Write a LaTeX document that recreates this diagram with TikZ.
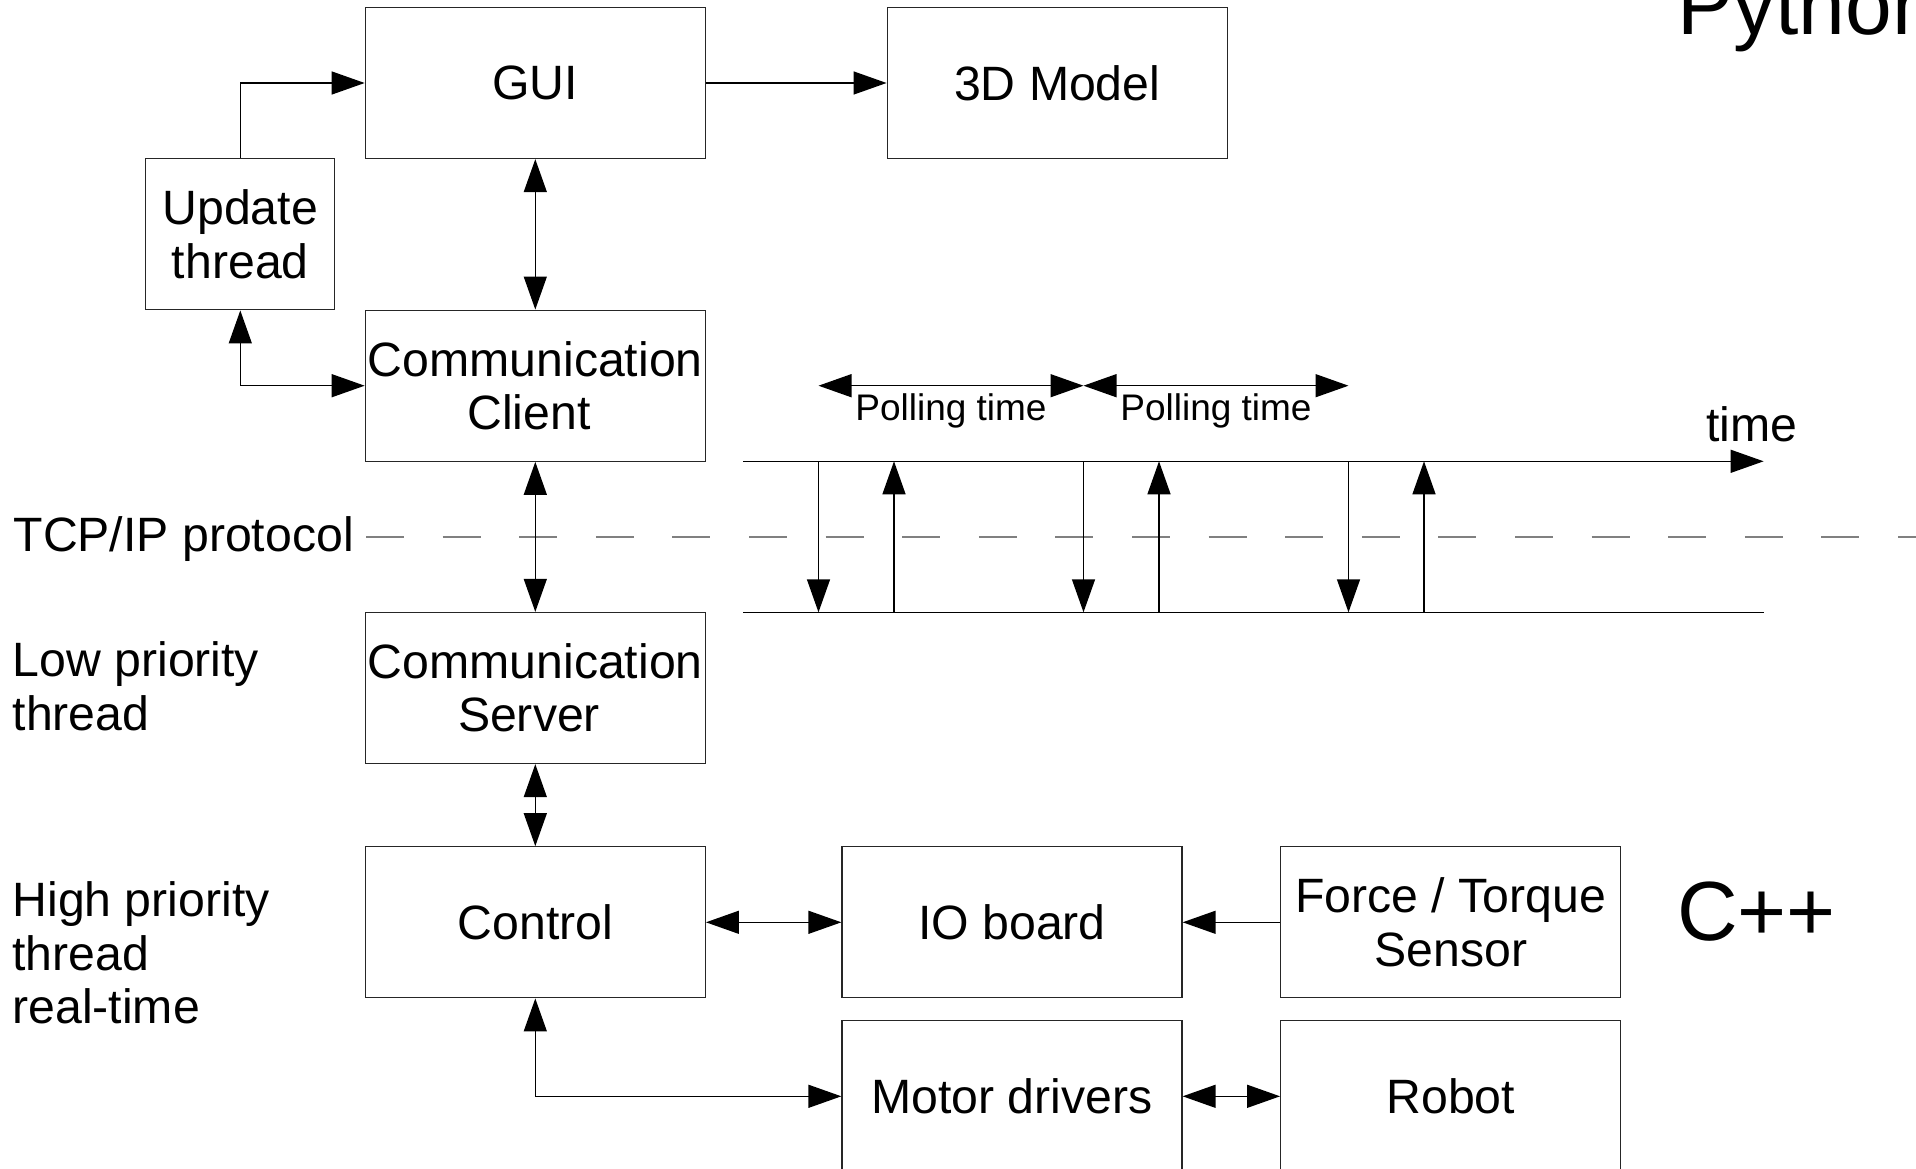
\documentclass[tikz,border=0pt]{standalone}
\usepackage{fontspec}
\setmainfont{Liberation Sans}
\usetikzlibrary{arrows.meta}
\begin{document}
\begin{tikzpicture}[x=1pt,y=-1pt,
  >={Triangle[length=33pt,width=23pt]},
  box/.style={draw=black!85, line width=1.3pt, minimum width=340pt, minimum height=151pt,
    inner sep=1pt, align=center, font=\fontsize{48.2}{53.3}\selectfont},
  lbl/.style={inner sep=0pt, align=left, font=\fontsize{48.2}{53.3}\selectfont},
  big/.style={inner sep=0pt, font=\fontsize{84}{96}\selectfont},
  small/.style={inner sep=0pt, font=\fontsize{37}{42}\selectfont},
  conn/.style={line width=1.4pt, black},
  tcpline/.style={line width=2pt, color=black!50, dash pattern=on 38pt off 38.6pt}
]
\useasboundingbox (0,0) rectangle (1916,1169);
\clip (0,0) rectangle (1916,1169);

% dashed protocol line
\coordinate (d0) at (366,536.7);
\coordinate (d1) at (1940,536.7);
\draw[tcpline] (d0) -- (d1);

% boxes
\node[box] (gui) at (535.3,83) {GUI};
\node[box] (m3d) at (1057.2,83) {3D Model};
\node[box, minimum width=189pt] (upd) at (240.3,234.3) {Update\\thread};
\node[box] (cli) at (535.3,385.7) {Communication\\Client\rule{12.6pt}{0pt}};
\node[box] (srv) at (535.3,688) {Communication\\Server\rule{12.6pt}{0pt}};
\node[box] (ctl) at (535.3,922.3) {Control};
\node[box] (io) at (1012,922.3) {IO board};
\node[box] (ft) at (1450.7,922.3) {Force / Torque\\Sensor};
\node[box] (mot) at (1012,1096.3) {Motor drivers};
\node[box] (rob) at (1450.7,1096.3) {Robot};

% side labels (base anchor = baseline of last line)
\node[lbl, anchor=base west] (tcp) at (13.4,551.7) {TCP/IP protocol};
\node[lbl, anchor=base west] (low) at (12.5,730) {Low priority\\thread};
\node[lbl, anchor=base west] (high) at (12.3,1023.3) {High priority\\thread\\real-time};
\node[big, anchor=base west] (py) at (1677,34.3) {Python};
\node[big, anchor=base west] (cpp) at (1677,940.5) {C++};

% connectors
\draw[conn,->] (upd.north) |- (gui.west);
\draw[conn,->] (gui.east) -- (m3d.west);
\draw[conn,<->] (gui.south) -- (cli.north);
\draw[conn,<->] (upd.south) |- (cli.west);
\draw[conn,<->] (cli.south) -- (srv.north);
\draw[conn,<->] (srv.south) -- (ctl.north);
\draw[conn,<->] (ctl.east) -- (io.west);
\draw[conn,->] (ft.west) -- (io.east);
\draw[conn,<->] (ctl.south) |- (mot.west);
\draw[conn,<->] (mot.east) -- (rob.west);

% timeline
\coordinate (t0) at (743,461.3);
\coordinate (t1) at (1763.6,461.3);
\coordinate (b0) at (743,612.3);
\coordinate (b1) at (1763.6,612.3);
\draw[conn,->] (t0) -- (t1);
\draw[conn] (b0) -- (b1);
\node[lbl, anchor=base] (time) at (1752,441) {time};

\foreach \i/\xd/\xu in {1/818.5/894, 2/1083.5/1159, 3/1348.5/1424}{
  \coordinate (dt\i) at (\xd,461.3);
  \coordinate (db\i) at (\xd,612.3);
  \coordinate (ut\i) at (\xu,461.3);
  \coordinate (ub\i) at (\xu,612.3);
  \draw[conn,->] (dt\i) -- (db\i);
  \draw[conn,->] (ub\i) -- (ut\i);
  \coordinate (p\i) at (\xd,385.7);
}
\draw[conn,<->] (p1) -- (p2);
\draw[conn,<->] (p2) -- (p3);
\node[small, anchor=base] (pl1) at (951,420) {Polling time};
\node[small, anchor=base] (pl2) at (1216,420) {Polling time};
\end{tikzpicture}
\end{document}
